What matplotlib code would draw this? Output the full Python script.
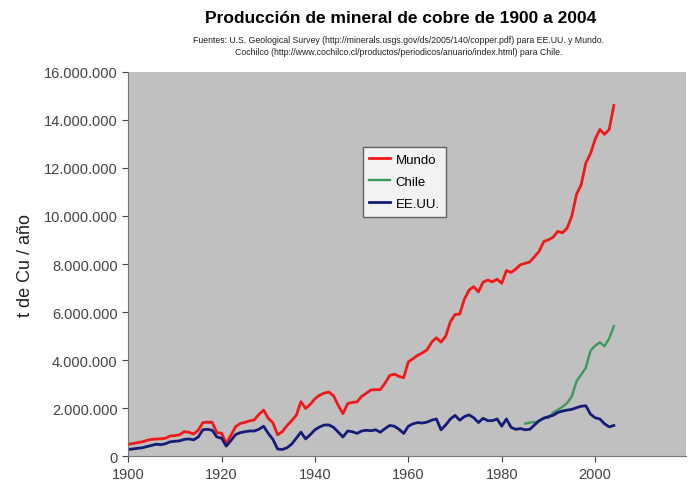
import matplotlib
matplotlib.use("Agg")
import matplotlib.pyplot as plt
from matplotlib.ticker import FuncFormatter
import numpy as np

plt.rcParams["font.family"] = ["Liberation Sans", "DejaVu Sans"]

# production in thousands of tonnes
years = np.arange(1900, 2005)
mundo = [495, 528, 564, 598, 660, 700, 718, 724, 750, 842,
         858, 891, 1020, 1000, 920, 1080, 1400, 1420, 1410, 979,
         959, 539, 871, 1230, 1360, 1410, 1470, 1510, 1740, 1920,
         1580, 1390, 894, 1020, 1270, 1480, 1700, 2270, 1990, 2160,
         2390, 2540, 2630, 2670, 2510, 2110, 1770, 2190, 2240, 2260,
         2490, 2620, 2760, 2770, 2770, 3040, 3360, 3420, 3320, 3270,
         3930, 4060, 4200, 4300, 4430, 4750, 4930, 4750, 5000, 5600,
         5900, 5920, 6540, 6920, 7060, 6840, 7250, 7330, 7260, 7370,
         7200, 7730, 7650, 7790, 7970, 8030, 8090, 8300, 8530, 8940,
         9010, 9120, 9360, 9300, 9500, 10000, 10900, 11300, 12200, 12600,
         13200, 13600, 13400, 13600, 14600]
eeuu = [280, 300, 330, 350, 400, 450, 500, 480, 520, 600,
        620, 640, 700, 720, 680, 800, 1100, 1120, 1080, 800,
        750, 420, 650, 900, 980, 1020, 1050, 1050, 1120, 1250,
        950, 700, 300, 280, 350, 500, 750, 1000, 720, 900,
        1100, 1220, 1300, 1300, 1200, 1000, 800, 1050, 1020, 950,
        1050, 1080, 1060, 1100, 1000, 1150, 1280, 1250, 1120, 950,
        1250, 1350, 1400, 1380, 1420, 1500, 1550, 1100, 1300, 1550,
        1700, 1500, 1650, 1720, 1600, 1400, 1580, 1480, 1480, 1550,
        1250, 1550, 1200, 1120, 1150, 1100, 1120, 1300, 1480, 1580,
        1650, 1700, 1820, 1880, 1920, 1950, 2020, 2080, 2100, 1750,
        1600, 1550, 1350, 1220, 1280]
years_chile = np.arange(1985, 2005)
chile = [1356, 1401, 1418, 1451, 1609, 1588, 1814, 1933, 2055, 2220,
         2489, 3116, 3392, 3687, 4391, 4602, 4739, 4581, 4904, 5413]

fig = plt.figure(figsize=(6.89, 4.89), dpi=100)
ax = fig.add_axes([0.186, 0.065, 0.81, 0.786])
ax.set_facecolor("#c0c0c0")

ax.plot(years, np.array(mundo) * 1000, color="#f01818", lw=2.0, label="Mundo")
ax.plot(years_chile, np.array(chile) * 1000, color="#3a9a5c", lw=1.7, label="Chile")
ax.plot(years, np.array(eeuu) * 1000, color="#141c78", lw=2.0, label="EE.UU.")

ax.set_xlim(1900, 2019.5)
ax.set_ylim(0, 16000000)
ax.set_xticks(range(1900, 2001, 20))
ax.set_yticks(range(0, 16000001, 2000000))
ax.yaxis.set_major_formatter(FuncFormatter(lambda v, p: f"{int(v):,}".replace(",", ".")))
ax.tick_params(labelsize=10.5, colors="#444444", length=4, width=0.8)
for s in ["top", "right"]:
    ax.spines[s].set_visible(False)
for s in ["left", "bottom"]:
    ax.spines[s].set_color("#777777")

ax.set_ylabel("t de Cu / año", fontsize=13, color="#222222", labelpad=7)

leg = ax.legend(loc="upper left", bbox_to_anchor=(0.42, 0.805), fontsize=9.5,
                frameon=True, fancybox=False, edgecolor="#444444",
                handlelength=1.6, handletextpad=0.4, borderpad=0.5, labelspacing=0.75,
                borderaxespad=0)
leg.get_frame().set_facecolor("white")
leg.get_frame().set_linewidth(1.0)

fig.text(0.582, 0.963, "Producción de mineral de cobre de 1900 a 2004",
         ha="center", va="center", fontsize=12.5, fontweight="bold")
fig.text(0.578, 0.905,
         "Fuentes: U.S. Geological Survey (http://minerals.usgs.gov/ds/2005/140/copper.pdf) para EE.UU. y Mundo.\n"
         "Cochilco (http://www.cochilco.cl/productos/periodicos/anuario/index.html) para Chile.",
         ha="center", va="center", fontsize=6.3, linespacing=1.35, color="#222222")

fig.savefig("out.png", dpi=100)
